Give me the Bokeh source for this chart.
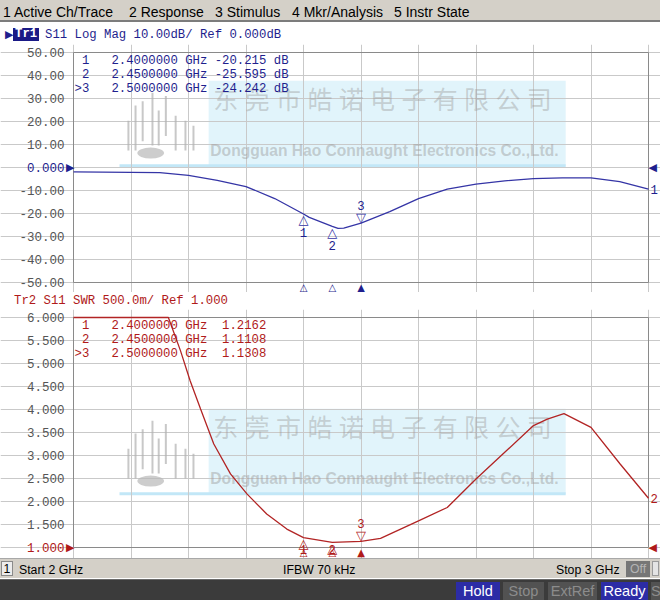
import numpy as np
from bokeh.plotting import figure
from bokeh.models import Range1d, FixedTicker, Label, Div
from bokeh.layouts import column
from bokeh.core.properties import value
from bokeh.embed import file_html
from bokeh.resources import INLINE

# ---------------- data ----------------
F_START, F_STOP = 2.0, 3.0
X_GRID = [2.0, 2.1, 2.2, 2.3, 2.4, 2.5, 2.6, 2.7, 2.8, 2.9, 3.0]

S11_FREQ = [2.00, 2.05, 2.10, 2.15, 2.20, 2.25, 2.30, 2.35, 2.40, 2.41, 2.45, 2.46,
            2.47, 2.50, 2.55, 2.60, 2.65, 2.70, 2.75, 2.80, 2.85, 2.90, 2.95, 3.00]
S11_DB = [-1.9, -2.0, -2.1, -2.2, -3.4, -5.6, -8.3, -13.5, -20.2, -21.7, -25.6, -26.5,
          -26.4, -24.2, -19.2, -13.5, -9.4, -7.2, -5.8, -4.8, -4.5, -4.5, -6.1, -9.4]

SWR_FREQ = [2.00, 2.10, 2.165, 2.186, 2.203, 2.221, 2.244, 2.273, 2.302, 2.336, 2.371,
            2.40, 2.45, 2.50, 2.534, 2.60, 2.65, 2.70, 2.75, 2.80, 2.824, 2.853, 2.90,
            2.951, 3.00]
SWR_VAL = [6.0, 6.0, 6.0, 5.28, 4.62, 4.01, 3.25, 2.60, 2.16, 1.73, 1.40,
           1.216, 1.111, 1.131, 1.20, 1.58, 1.87, 2.49, 3.07, 3.65, 3.79, 3.91, 3.61,
           2.81, 2.07]

MK_ID = [1, 2, 3]
MK_FREQ = [2.40, 2.45, 2.50]
MK_DB = [-20.215, -25.595, -24.242]
MK_SWR = [1.2162, 1.1108, 1.1308]
ACTIVE_MK = 3

DB_TICKS = [50, 40, 30, 20, 10, 0, -10, -20, -30, -40, -50]
DB_LABELS = ["50.00", "40.00", "30.00", "20.00", "10.00", "0.000",
             "-10.00", "-20.00", "-30.00", "-40.00", "-50.00"]
DB_REF = 0
SWR_TICKS = [6.0, 5.5, 5.0, 4.5, 4.0, 3.5, 3.0, 2.5, 2.0, 1.5, 1.0]
SWR_LABELS = ["6.000", "5.500", "5.000", "4.500", "4.000", "3.500",
              "3.000", "2.500", "2.000", "1.500", "1.000"]
SWR_REF = 1.0

TR1_TITLE = "S11 Log Mag 10.00dB/ Ref 0.000dB"
TR2_TITLE = "Tr2 S11 SWR 500.0m/ Ref 1.000"
MENU_ITEMS = ["1 Active Ch/Trace", "2 Response", "3 Stimulus", "4 Mkr/Analysis", "5 Instr State"]
STATUS_START, STATUS_IFBW, STATUS_STOP = "Start 2 GHz", "IFBW 70 kHz", "Stop 3 GHz"

WM_CN = "东莞市皓诺电子有限公司"
WM_EN = "Dongguan Hao Connaught Electronics Co.,Ltd."

# ---------------- styles / layout ----------------
W = 660
PAD_L, PAD_R = 73, 12          # pixels left / right of the graticule
MONO = "Liberation Mono"
SANS = "Liberation Sans"
SYM = "DejaVu Sans"
BLUE = "#3535a6"
NAVY = "#1f1f8e"
RED = "#b22424"
DRED = "#b01a1a"
GRAY_LBL = "#555555"
CW = 7.38                       # mono character advance at 12.3px

WM_X = (2.08, 2.235, 2.856)          # logo start, box start, box end
WM_Y_TOP_PANEL = (0.74, 37.7)
WM_Y_BOT_PANEL = (2.167, 4.015)
LOGO_STROKES = [(0.10, 0.18, 0.53), (0.18, 0.18, 0.71), (0.26, 0.29, 0.76),
                (0.37, 0.24, 0.86), (0.44, 0.24, 0.65), (0.52, 0.35, 0.82),
                (0.63, 0.18, 0.59), (0.74, 0.18, 0.53), (0.83, 0.18, 0.47)]


def watermark(p, wm_y):
    x_logo, x_box, x_end = WM_X
    yb, yt = wm_y
    p.quad(left=[x_box], right=[x_end], bottom=[yb], top=[yt],
           fill_color="#e1f4fb", line_color=None, level="image")
    p.line([x_logo, x_end], [yb, yb], line_color="#c2e7f7", line_width=3, level="image")
    lw = x_box - x_logo
    xs = [[x_logo + u * lw] * 2 for u, _, _ in LOGO_STROKES]
    ys = [[yb + v0 * (yt - yb), yb + v1 * (yt - yb)] for _, v0, v1 in LOGO_STROKES]
    p.multi_line(xs, ys, line_color="#b0b0b0", line_width=2, line_alpha=0.7)
    p.ellipse(x=[x_logo + 0.35 * lw], y=[yb + 0.15 * (yt - yb)], width=[0.30 * lw],
              height=[0.13 * (yt - yb)], fill_color="#b8b8b8", fill_alpha=0.7, line_color=None)
    cx = np.linspace(x_box + 0.030, x_end - 0.046, len(WM_CN))
    p.text(x=cx, y=[yt - 0.2 * (yt - yb)] * len(WM_CN), text=list(WM_CN),
           text_font=value("Noto Sans CJK SC"), text_font_size="25px",
           text_color="#9a9a9a", text_alpha=0.42, text_align="center", text_baseline="middle")
    p.text(x=[x_box + 0.003], y=[yt - 0.82 * (yt - yb)], text=[WM_EN],
           text_font=value(SANS), text_font_style="bold", text_font_size="15.6px",
           text_color="#9a9a9a", text_alpha=0.45, text_align="left", text_baseline="middle")


def panel(y_lo, y_hi, ticks, labels, ref, txt_color, trace_color, fx, fy, mk_vals,
          val_fmt, unit, end_label, wm_y, height, pad_t, pad_b, num_off):
    gw = W - PAD_L - PAD_R
    gh = height - pad_t - pad_b
    xpp = (F_STOP - F_START) / gw
    ypp = (y_hi - y_lo) / gh
    p = figure(width=W, height=height, title=None,
               x_range=Range1d(F_START - PAD_L * xpp, F_STOP + PAD_R * xpp),
               y_range=Range1d(y_lo - pad_b * ypp, y_hi + pad_t * ypp),
               x_axis_location=None, y_axis_location=None,
               output_backend="svg", toolbar_location=None,
               min_border_left=0, min_border_right=0, min_border_top=0, min_border_bottom=0,
               background_fill_color="white", border_fill_color="white",
               outline_line_color=None)
    p.xgrid.ticker = FixedTicker(ticks=X_GRID)
    p.xgrid.bounds = (y_lo, y_hi)
    p.ygrid.ticker = FixedTicker(ticks=ticks)
    p.ygrid.bounds = (F_START, F_STOP)
    p.grid.grid_line_color = "#c9c9c9"

    watermark(p, wm_y)

    # graticule border
    p.quad(left=[F_START], right=[F_STOP], bottom=[y_lo], top=[y_hi],
           fill_color=None, line_color="#8a8a8a", line_width=1)

    # y tick labels
    colors = [txt_color if t == ref else GRAY_LBL for t in ticks]
    p.text(x=[F_START] * len(ticks), y=ticks, text=labels, text_color=colors,
           x_offset=-9, text_align="right", text_baseline="middle",
           text_font=value(MONO), text_font_size="12.5px")

    p.line(fx, fy, line_color=trace_color, line_width=1.3)

    # marker table
    ids = "\n".join((">" if m == ACTIVE_MK else "") + str(m) for m in MK_ID)
    freqs = "\n".join(f"{f:.7f}" for f in MK_FREQ)
    ghz = "\n".join("GHz" for _ in MK_ID)
    vals = "\n".join(val_fmt.format(v) for v in mk_vals)
    common = dict(text_font=value(MONO), text_font_size="12.3px", text_color=txt_color,
                  text_baseline="top", text_line_height=1.02)
    p.text(x=[F_START], y=[y_hi], text=[ids], x_offset=1 + 2 * CW, y_offset=1, text_align="right", **common)
    p.text(x=[F_START], y=[y_hi], text=[freqs], x_offset=1 + 5 * CW, y_offset=1, text_align="left", **common)
    p.text(x=[F_START], y=[y_hi], text=[ghz], x_offset=1 + 15 * CW, y_offset=1, text_align="left", **common)
    p.text(x=[F_START], y=[y_hi], text=[vals], x_offset=1 + 26 * CW, y_offset=1, text_align="right", **common)
    if unit:
        units = "\n".join(unit for _ in MK_ID)
        p.text(x=[F_START], y=[y_hi], text=[units], x_offset=1 + 27 * CW, y_offset=1, text_align="left", **common)

    # markers on trace and below the graticule
    for mid, f, v in zip(MK_ID, MK_FREQ, mk_vals):
        act = mid == ACTIVE_MK
        room = (v - y_lo) / ypp + pad_b - 9          # pixels left below the marker
        off = 18 if act else max(num_off, -room)
        p.add_layout(Label(x=f, y=v, y_offset=6 if act else -6, text="▽" if act else "△",
                           text_align="center", text_baseline="middle", text_font=SYM,
                           text_font_size="13px", text_color=trace_color))
        p.add_layout(Label(x=f, y=v, y_offset=off, text=str(mid),
                           text_align="center", text_baseline="middle",
                           text_font=MONO, text_font_size="12.3px", text_color=txt_color))
        p.add_layout(Label(x=f, y=y_lo, y_offset=-5, text="▲" if act else "△",
                           text_align="center", text_baseline="middle", text_font=SYM,
                           text_font_size="10px", text_color=txt_color))

    p.add_layout(Label(x=F_START, y=ref, text="▶", text_align="right", text_baseline="middle",
                       x_offset=1, text_font=SYM, text_font_size="11px", text_color=txt_color))
    p.add_layout(Label(x=F_STOP, y=ref, text="◀", text_align="left", text_baseline="middle",
                       x_offset=0, text_font=SYM, text_font_size="11px", text_color=txt_color))
    p.add_layout(Label(x=fx[-1], y=fy[-1], text=end_label, text_align="left",
                       text_baseline="middle", x_offset=2, text_font=MONO,
                       text_font_size="12.3px", text_color=txt_color))
    return p


p1 = panel(-50, 50, DB_TICKS, DB_LABELS, DB_REF, NAVY, BLUE, S11_FREQ, S11_DB, MK_DB,
           "{:.3f}", "dB", "1", WM_Y_TOP_PANEL, 248, 8, 10, -19)
p2 = panel(1.0, 6.0, SWR_TICKS, SWR_LABELS, SWR_REF, DRED, RED, SWR_FREQ, SWR_VAL, MK_SWR,
           "{:.4f}", "", "2", WM_Y_BOT_PANEL, 249, 8, 11, -12)

# ---------------- chrome ----------------
NOM = (0, 0, 0, 0)
menu_x = [3, 129, 215, 292, 394]
menu_html = (f'<div style="position:relative;width:{W}px;height:22px;background:#d4d0c8;'
             f'border-bottom:2px solid #7c7c7c;font-family:\'{SANS}\';font-size:14px;color:#000;">'
             + "".join(f'<span style="position:absolute;left:{x}px;top:2px;white-space:nowrap;">{t}</span>'
                       for x, t in zip(menu_x, MENU_ITEMS))
             + '</div>')
menu = Div(text=menu_html, width=W, height=24, margin=NOM)

t1_html = (f'<div style="position:relative;width:{W}px;height:20px;font-family:\'{MONO}\';'
           f'font-size:12.3px;color:{NAVY};white-space:pre;">'
           f'<span style="position:absolute;left:5px;top:3px;font-family:\'{SYM}\';font-size:11px;">▶</span>'
           f'<span style="position:absolute;left:13px;top:4px;height:13px;line-height:13px;'
           f'background:#1a1a86;color:#fff;font-weight:bold;padding:0 2px;">Tr1</span>'
           f'<span style="position:absolute;left:45px;top:3px;">{TR1_TITLE}</span></div>')
title1 = Div(text=t1_html, width=W, height=20, margin=NOM)

t2_html = (f'<div style="position:relative;width:{W}px;height:17px;font-family:\'{MONO}\';'
           f'font-size:12.3px;color:{DRED};white-space:pre;">'
           f'<span style="position:absolute;left:14px;top:1px;">{TR2_TITLE}</span></div>')
title2 = Div(text=t2_html, width=W, height=17, margin=NOM)

s1_html = (f'<div style="position:relative;width:{W}px;height:20px;background:#d4d0c8;'
           f'border-top:1px solid #a8a8a8;font-family:\'{SANS}\';font-size:12.3px;color:#000;white-space:nowrap;">'
           '<span style="position:absolute;left:1px;top:2px;width:12px;height:15px;line-height:15px;'
           'text-align:center;background:#ececec;border:1px solid #8a8a8a;">1</span>'
           f'<span style="position:absolute;left:19px;top:3px;">{STATUS_START}</span>'
           f'<span style="position:absolute;left:283px;top:3px;">{STATUS_IFBW}</span>'
           f'<span style="position:absolute;left:556px;top:3px;">{STATUS_STOP}</span>'
           '<span style="position:absolute;left:626px;top:2px;width:24px;height:16px;line-height:16px;'
           'text-align:center;background:#767676;color:#b4b4b4;">Off</span>'
           '<span style="position:absolute;left:652px;top:2px;width:7px;height:15px;'
           'background:#e4e4e4;border:1px solid #9a9a9a;"></span>'
           '</div>')
status1 = Div(text=s1_html, width=W, height=21, margin=NOM)

buttons = [("Hold", 456, 44, True), ("Stop", 503, 41, False), ("ExtRef", 548, 49, False),
           ("Ready", 601, 47, True), ("S", 651, 9, False)]
s2_html = (f'<div style="position:relative;width:{W}px;height:21px;background:#3b3b3b;'
           f'border-top:1px solid #6a6a6a;font-family:\'{SANS}\';font-size:14.5px;white-space:nowrap;overflow:hidden;">'
           + "".join(f'<span style="position:absolute;left:{x}px;top:2px;width:{w}px;height:18px;'
                     f'line-height:18px;text-align:center;overflow:hidden;'
                     f'background:{"#2c2ca6" if on else "#525252"};color:{"#ffffff" if on else "#8c8c8c"};">{t}</span>'
                     for t, x, w, on in buttons)
           + '</div>')
status2 = Div(text=s2_html, width=W, height=22, margin=NOM)

layout = column(menu, title1, p1, title2, p2, status1, status2)
open("out.html", "w").write(file_html(layout, INLINE))
